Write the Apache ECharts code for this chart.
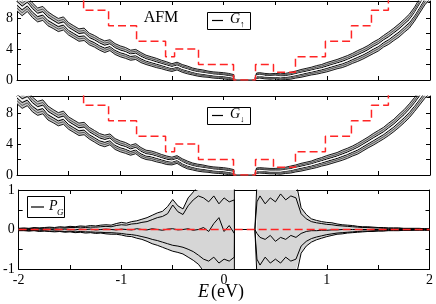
<!DOCTYPE html>
<html><head><meta charset="utf-8">
<script src="https://cdn.jsdelivr.net/npm/echarts@6/dist/echarts.min.js"></script>
<style>html,body{margin:0;padding:0;background:#fff}#c{width:436px;height:304px}</style>
</head><body><div id="c"></div>
<script>
// ---------- data ----------
const energies = [-2.00,-1.95,-1.90,-1.85,-1.80,-1.75,-1.70,-1.65,-1.60,-1.55,
 -1.50,-1.45,-1.40,-1.35,-1.30,-1.25,-1.20,-1.15,-1.10,-1.05,
 -1.00,-0.95,-0.90,-0.85,-0.80,-0.75,-0.70,-0.65,-0.60,-0.55,
 -0.50,-0.45,-0.40,-0.35,-0.30,-0.25,-0.20,-0.15,-0.10,-0.05,
 0.00,0.05,0.10,0.101,0.15,0.20,0.25,0.30,0.319,0.32,
 0.35,0.40,0.45,0.50,0.55,0.60,0.65,0.70,0.75,0.80,
 0.85,0.90,0.95,1.00,1.05,1.10,1.15,1.20,1.25,1.30,
 1.35,1.40,1.45,1.50,1.55,1.60,1.65,1.70,1.75,1.80,
 1.85,1.90,1.95,2.00];

const gUpCenter = [9.9,9.3,9.8,9.0,8.4,8.6,7.9,7.5,7.1,7.3,
 6.6,6.2,5.8,5.9,5.3,5.0,4.6,4.3,4.5,4.0,
 3.7,3.5,3.2,3.3,2.9,2.6,2.4,2.2,2.0,1.8,
 1.6,1.8,1.5,1.3,1.1,0.95,0.85,0.75,0.65,0.6,
 0.55,0.45,0.35,0,0,0,0,0,0,0.55,
 0.6,0.5,0.45,0.5,0.4,0.45,0.55,0.7,0.85,1.0,
 1.15,1.3,1.45,1.65,1.85,2.05,2.25,2.5,2.8,3.1,
 3.4,3.75,4.15,4.5,5.0,5.4,5.9,6.4,7.0,7.6,
 8.5,9.6,10.7,11.5];
const gUpSpread = [1.0,1.0,0.95,0.95,0.9,0.9,0.9,0.85,0.85,0.85,
 0.8,0.8,0.8,0.8,0.75,0.75,0.75,0.75,0.7,0.7,
 0.7,0.7,0.65,0.65,0.65,0.6,0.6,0.6,0.55,0.55,
 0.5,0.5,0.5,0.5,0.45,0.45,0.45,0.4,0.4,0.4,
 0.4,0.4,0.35,0,0,0,0,0,0,0.35,
 0.35,0.35,0.35,0.35,0.4,0.4,0.45,0.45,0.5,0.5,
 0.5,0.55,0.55,0.6,0.6,0.6,0.65,0.65,0.65,0.7,
 0.7,0.7,0.75,0.75,0.75,0.8,0.8,0.85,0.85,0.9,
 0.9,0.95,1.0,1.0];

const gDownCenter = [10.2,9.6,9.9,9.1,8.6,8.8,8.0,7.6,7.2,7.4,
 6.7,6.3,5.9,6.0,5.4,5.0,4.6,4.4,4.6,4.0,
 3.7,3.5,3.2,3.4,2.9,2.6,2.5,2.3,2.1,1.9,
 1.8,2.0,1.6,1.3,1.1,0.95,0.85,0.75,0.65,0.6,
 0.55,0.45,0.35,0,0,0,0,0,0,0.55,
 0.6,0.55,0.5,0.5,0.5,0.6,0.7,0.85,1.0,1.15,
 1.3,1.5,1.7,1.9,2.1,2.3,2.55,2.8,3.1,3.4,
 3.8,4.2,4.6,5.0,5.4,5.9,6.4,7.0,7.6,8.3,
 9.1,10.0,10.9,11.6];
const gDownSpread = [1.0,1.0,0.95,0.95,0.9,0.9,0.9,0.85,0.85,0.85,
 0.8,0.8,0.8,0.8,0.75,0.75,0.75,0.75,0.7,0.7,
 0.7,0.7,0.65,0.65,0.65,0.6,0.6,0.6,0.55,0.55,
 0.5,0.5,0.5,0.5,0.45,0.45,0.45,0.4,0.4,0.4,
 0.4,0.4,0.35,0,0,0,0,0,0,0.35,
 0.35,0.35,0.35,0.35,0.4,0.4,0.45,0.45,0.5,0.5,
 0.5,0.55,0.55,0.6,0.6,0.6,0.65,0.65,0.65,0.7,
 0.7,0.7,0.75,0.75,0.75,0.8,0.8,0.85,0.85,0.9,
 0.9,0.95,1.0,1.0];

const pgUpper = [0.03,0.04,0.03,0.05,0.04,0.05,0.06,0.05,0.07,0.06,
 0.08,0.07,0.09,0.08,0.10,0.09,0.11,0.12,0.11,0.15,
 0.18,0.16,0.20,0.22,0.26,0.30,0.36,0.42,0.46,0.58,
 0.76,0.60,0.52,0.80,0.95,1.1,1.2,1.2,1.2,1.2,
 1.2,1.2,1.2,0,0,0,0,0,0,1.2,
 1.2,1.2,1.2,1.2,1.2,1.2,1.2,1.2,0.55,0.38,
 0.27,0.23,0.20,0.18,0.17,0.14,0.12,0.11,0.10,0.08,
 0.07,0.07,0.06,0.05,0.05,0.04,0.04,0.04,0.03,0.03,
 0.03,0.03,0.02,0.02];
const pgLower = [-0.03,-0.03,-0.04,-0.03,-0.05,-0.04,-0.05,-0.06,-0.05,-0.07,
 -0.06,-0.08,-0.07,-0.09,-0.08,-0.10,-0.09,-0.11,-0.12,-0.12,
 -0.14,-0.17,-0.18,-0.22,-0.25,-0.30,-0.36,-0.40,-0.45,-0.50,
 -0.55,-0.58,-0.62,-0.70,-0.78,-0.88,-1.05,-1.2,-1.2,-1.2,
 -1.2,-1.2,-1.2,0,0,0,0,0,0,-1.2,
 -1.2,-1.2,-1.2,-1.2,-1.2,-1.2,-1.2,-1.2,-0.6,-0.42,
 -0.32,-0.26,-0.22,-0.18,-0.15,-0.12,-0.11,-0.09,-0.08,-0.07,
 -0.06,-0.05,-0.05,-0.04,-0.04,-0.03,-0.03,-0.03,-0.02,-0.02,
 -0.02,-0.02,-0.02,-0.02];
const pgUpperInner = [0.02,0.02,0.02,0.03,0.03,0.03,0.04,0.03,0.04,0.04,
 0.05,0.05,0.06,0.05,0.06,0.06,0.07,0.08,0.07,0.10,
 0.12,0.11,0.14,0.15,0.18,0.20,0.25,0.30,0.33,0.40,
 0.62,0.45,0.38,0.60,0.75,0.85,0.80,0.70,0.85,0.65,
 0.80,0.70,0.75,0,0,0,0,0,0,0.70,
 0.85,0.65,0.80,0.70,0.90,0.75,0.85,0.80,0.40,0.27,
 0.20,0.17,0.15,0.13,0.12,0.10,0.09,0.08,0.07,0.06,
 0.05,0.05,0.04,0.04,0.03,0.03,0.03,0.03,0.02,0.02,
 0.02,0.02,0.02,0.01];
const pgLowerInner = [-0.02,-0.02,-0.03,-0.02,-0.03,-0.03,-0.04,-0.04,-0.04,-0.05,
 -0.04,-0.06,-0.05,-0.06,-0.06,-0.07,-0.07,-0.08,-0.08,-0.09,
 -0.10,-0.12,-0.13,-0.15,-0.18,-0.21,-0.25,-0.28,-0.32,-0.36,
 -0.40,-0.42,-0.45,-0.50,-0.56,-0.65,-0.75,-0.80,-0.70,-0.85,
 -0.75,-0.80,-0.70,0,0,0,0,0,0,-0.75,
 -0.90,-0.70,-0.85,-0.75,-0.85,-0.70,-0.80,-0.75,-0.42,-0.30,
 -0.23,-0.19,-0.16,-0.13,-0.11,-0.09,-0.08,-0.07,-0.06,-0.05,
 -0.04,-0.04,-0.03,-0.03,-0.03,-0.02,-0.02,-0.02,-0.02,-0.02,
 -0.01,-0.01,-0.01,-0.01];
const pgCenter = [0,0.01,0,-0.01,0.01,0,0.01,-0.01,0,0.01,
 0,-0.01,0.01,0,0.01,-0.01,0,0.01,0,-0.01,
 0.01,0,-0.01,0.02,0,-0.01,0.02,0,-0.02,0.01,
 0.02,-0.01,0,0.02,-0.02,0,0.05,-0.05,0.15,0.30,
 -0.05,0.10,-0.10,0,0,0,0,0,0,-0.10,
 -0.20,-0.25,-0.15,-0.30,-0.20,-0.25,-0.15,-0.20,-0.10,-0.05,
 -0.03,-0.03,-0.02,-0.02,-0.01,-0.01,0,0,0,0,
 0,0,0,0,0,0,0,0,0,0,
 0,0,0,0];
const pgReference = [0, 0];

const stepEdges = [-2,-1.355,-1.113,-0.842,-0.561,-0.474,-0.242,0.097,0.31,0.484,0.697,0.987,1.239,1.433,1.597,2];
const stepUpLevels = [11,9,7,5,3,4,2,0,2,1,3,5,7,9,11];
const stepDownLevels = [11,9,7,5,3,4,2,0,2,1,3,5,7,9,11];

const xRange = [-2, 2];
const gRange = [0, 10.2];
const pRange = [-1, 1];

// ---------- build ----------
const pairs = ys => energies.map((e, i) => [e, ys[i]]);
const comb = (a, b, k) => a.map((v, i) => v + k * b[i]);
const stepPairs = (edges, lv) => { const o = []; lv.forEach((l, i) => { o.push([edges[i], l]); o.push([edges[i + 1], l]); }); return o; };

const SERIF = 'Liberation Serif';
const grids = [
  { left: 17, right: 6, top: 1, height: 79 },
  { left: 17, right: 6, top: 96, height: 79 },
  { left: 17, right: 6, top: 190, height: 79 }
];
const lab = { fontFamily: SERIF, fontSize: 14, color: '#000' };
const xAxes = [], yAxes = [];
grids.forEach((g, gi) => {
  ['bottom', 'top'].forEach(pos => {
    xAxes.push({
      type: 'value', gridIndex: gi, position: pos, min: xRange[0], max: xRange[1], interval: 0.5,
      axisLine: { onZero: false, lineStyle: { color: '#000', width: 1 } },
      axisTick: { inside: true, length: 4, lineStyle: { color: '#000' } },
      splitLine: { show: false },
      axisLabel: Object.assign({ show: gi === 2 && pos === 'bottom', margin: 4,
        formatter: v => Number.isInteger(v) ? String(v) : '' }, lab)
    });
  });
  ['left', 'right'].forEach(pos => {
    const isP = gi === 2;
    yAxes.push({
      type: 'value', gridIndex: gi, position: pos,
      min: isP ? pRange[0] : gRange[0], max: isP ? pRange[1] : gRange[1], interval: isP ? 0.5 : 2,
      axisLine: { onZero: false, lineStyle: { color: '#000', width: 1 } },
      axisTick: { inside: true, length: 4, lineStyle: { color: '#000' } },
      splitLine: { show: false },
      axisLabel: Object.assign({ show: pos === 'left', margin: 4,
        formatter: v => isP ? (Number.isInteger(v) ? String(v) : '') : (Math.abs(v % 4) < 1e-9 ? String(v) : '') }, lab)
    });
  });
});

const series = [];
const line = (ax, data, color, width, extra) => Object.assign({
  type: 'line', xAxisIndex: ax * 2, yAxisIndex: ax * 2, data, symbol: 'none', silent: true,
  lineStyle: { color, width }, clip: true, z: 3
}, extra || {});

// filled band between two curves, drawn as one polygon through the axis scales
function band(ax, lo, hi, color, range) {
  const cl = v => Math.max(range[0], Math.min(range[1], v));
  return {
    type: 'custom', xAxisIndex: ax * 2, yAxisIndex: ax * 2, silent: true, z: 2,
    data: energies.map((e, i) => [e, lo[i], hi[i]]),
    encode: { x: 0, y: [1, 2] },
    renderItem: (params, api) => {
      if (params.dataIndex !== 0) return null;
      const pts = [];
      for (let i = 0; i < energies.length; i++) pts.push(api.coord([energies[i], cl(hi[i])]));
      for (let i = energies.length - 1; i >= 0; i--) pts.push(api.coord([energies[i], cl(lo[i])]));
      return { type: 'polygon', shape: { points: pts }, style: { fill: color, stroke: null } };
    }
  };
}

function gPanel(ax, center, spread, levels) {
  series.push(band(ax, comb(center, spread, -1), comb(center, spread, 1), '#c4c4c4', gRange));
  [1, -1].forEach(k => series.push(line(ax, pairs(comb(center, spread, k)), '#000', 0.9)));
  [0.62, -0.62].forEach(k => series.push(line(ax, pairs(comb(center, spread, k)), '#222', 0.7)));
  [0.25, -0.25].forEach(k => series.push(line(ax, pairs(comb(center, spread, k)), '#000', 1)));
  series.push(line(ax, pairs(center), '#fff', 1.2));
  series.push(line(ax, stepPairs(stepEdges, levels), '#ff2525', 1.5, { lineStyle: { color: '#ff2525', width: 1.5, type: [8, 4] }, z: 5 }));
}
gPanel(0, gUpCenter, gUpSpread, stepUpLevels);
gPanel(1, gDownCenter, gDownSpread, stepDownLevels);

series.push(band(2, pgLower, pgUpper, '#d6d6d6', pRange));
series.push(line(2, pairs(pgUpper), '#000', 1));
series.push(line(2, pairs(pgLower), '#000', 1));
series.push(line(2, pairs(pgUpperInner), '#000', 1));
series.push(line(2, pairs(pgLowerInner), '#000', 1));
series.push(line(2, pairs(pgCenter), '#000', 1));
series.push(line(2, xRange.map((x, i) => [x, pgReference[i]]), '#ff2525', 1.5, { lineStyle: { color: '#ff2525', width: 1.5, type: [8, 4] }, z: 5 }));

const legendBox = (x, y, w, h) => ({ type: 'rect', shape: { x, y, width: w, height: h }, style: { fill: '#fff', stroke: '#000', lineWidth: 1 }, z: 100 });
const legendLine = (x1, x2, y) => ({ type: 'line', shape: { x1, y1: y, x2, y2: y }, style: { stroke: '#000', lineWidth: 1.2 }, z: 101 });
const txt = (x, y, text, size, italic, align) => ({ type: 'text', x, y, z: 101,
  style: { text, fill: '#000', font: (italic ? 'italic ' : '') + size + 'px "' + SERIF + '"', textAlign: align || 'left', textVerticalAlign: 'middle' } });

const graphic = [
  txt(161, 18, 'AFM', 16, false, 'center'),
  legendBox(207.5, 12.5, 43, 17), legendLine(212, 223, 20.5), txt(230, 19, 'G', 14, true), txt(240, 25, '↑', 9, false),
  legendBox(207.5, 107.5, 43, 17), legendLine(212, 223, 115.5), txt(230, 114, 'G', 14, true), txt(240, 120, '↓', 9, false),
  legendBox(27.5, 196.5, 37, 21), legendLine(31, 44, 207), txt(49, 206, 'P', 14, true), txt(57, 213, 'G', 9, true),
  { type: 'text', x: 221, y: 292, z: 101, style: { text: '{a|E}{b|(eV)}', textAlign: 'center', textVerticalAlign: 'middle',
    rich: { a: { fontFamily: SERIF, fontStyle: 'italic', fontSize: 18, fill: '#000', padding: [0, 2, 0, 0] }, b: { fontFamily: SERIF, fontSize: 18, fill: '#000' } } } }
];

const chart = echarts.init(document.getElementById('c'), null, { renderer: 'canvas' });
chart.setOption({
  animation: false, backgroundColor: '#fff',
  grid: grids, xAxis: xAxes, yAxis: yAxes, series, graphic
});
</script></body></html>
